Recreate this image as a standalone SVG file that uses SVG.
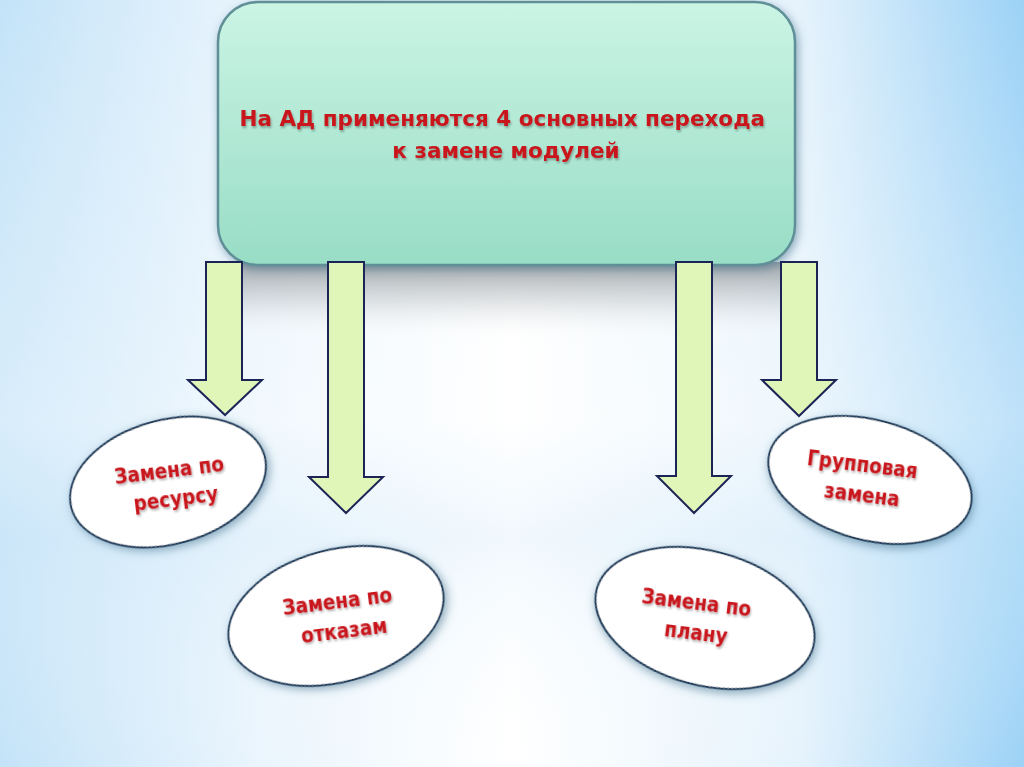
<svg xmlns="http://www.w3.org/2000/svg" width="1024" height="767" viewBox="0 0 1024 767">
<defs>
  <linearGradient id="bgH" x1="0" y1="0" x2="1" y2="0">
    <stop offset="0" stop-color="#c4e3f8"/>
    <stop offset="0.25" stop-color="#eaf5fd"/>
    <stop offset="0.5" stop-color="#ffffff"/>
    <stop offset="0.78" stop-color="#e6f3fc"/>
    <stop offset="1" stop-color="#9cd2f6"/>
  </linearGradient>
  <linearGradient id="bgV" x1="0" y1="0" x2="0" y2="1">
    <stop offset="0" stop-color="#ffffff" stop-opacity="0"/>
    <stop offset="0.55" stop-color="#ffffff" stop-opacity="0.35"/>
    <stop offset="0.7" stop-color="#d8ecfa" stop-opacity="0.35"/>
    <stop offset="1" stop-color="#ffffff" stop-opacity="0"/>
  </linearGradient>
  <linearGradient id="boxFill" x1="0" y1="0" x2="0" y2="1">
    <stop offset="0" stop-color="#cbf4e4"/>
    <stop offset="1" stop-color="#98ddc6"/>
  </linearGradient>
  <linearGradient id="refl" x1="0" y1="0" x2="0" y2="1">
    <stop offset="0" stop-color="#8e9498" stop-opacity="0.85"/>
    <stop offset="0.5" stop-color="#c4c9cc" stop-opacity="0.5"/>
    <stop offset="1" stop-color="#ffffff" stop-opacity="0"/>
  </linearGradient>
  <filter id="glow" x="-20%" y="-20%" width="140%" height="140%">
    <feGaussianBlur in="SourceAlpha" stdDeviation="5"/>
    <feOffset dx="2" dy="3" result="b"/>
    <feFlood flood-color="#3a6a86" flood-opacity="0.55"/>
    <feComposite in2="b" operator="in"/>
    <feMerge><feMergeNode/><feMergeNode in="SourceGraphic"/></feMerge>
  </filter>
  <filter id="tshadow" x="-10%" y="-20%" width="120%" height="150%">
    <feGaussianBlur in="SourceAlpha" stdDeviation="1"/>
    <feOffset dx="1" dy="2" result="b"/>
    <feFlood flood-color="#000000" flood-opacity="0.3"/>
    <feComposite in2="b" operator="in"/>
    <feMerge><feMergeNode/><feMergeNode in="SourceGraphic"/></feMerge>
  </filter>
</defs>
<style>
  .arrow { fill: #e0f6b9; stroke: #1c2456; stroke-width: 2; stroke-linejoin: miter; }
  .oval { fill: #ffffff; stroke: #223d5a; stroke-width: 2; }
  .lbl { font-family: "DejaVu Sans", Verdana, sans-serif; font-weight: bold; fill: #c8161c; text-anchor: middle; }
  .ov { font-stretch: condensed; font-size: 20.5px; }
</style>

<rect x="0" y="0" width="1024" height="767" fill="url(#bgH)"/>
<rect x="0" y="0" width="1024" height="767" fill="url(#bgV)"/>
<rect x="232" y="262" width="556" height="80" fill="url(#refl)"/>

<g id="main">
  <rect x="218" y="2" width="577" height="263" rx="40" ry="40" fill="url(#boxFill)" stroke="#5f8f97" stroke-width="2.5" filter="url(#glow)"/>
  <text class="lbl" font-size="21.5" filter="url(#tshadow)">
    <tspan x="506" y="126">На АД применяются 4 основных перехода</tspan>
    <tspan x="506" y="158">к замене модулей</tspan>
  </text>
</g>

<g id="connectors">
  <polygon class="arrow" points="206,262 242,262 242,380 262,380 225,415 188,380 206,380"/>
  <polygon class="arrow" points="328,262 364,262 364,477 383,477 346,513 309,477 328,477"/>
  <polygon class="arrow" points="676,262 712,262 712,476 731,476 694,513 657,476 676,476"/>
  <polygon class="arrow" points="781,262 817,262 817,380 836,380 799,416 762,380 781,380"/>
</g>

<g id="n-resurs">
  <ellipse class="oval" cx="168" cy="482" rx="100" ry="62" transform="rotate(-15 168 482)" filter="url(#glow)"/>
  <text class="lbl ov" transform="translate(174,484) rotate(-7)" filter="url(#tshadow)">
    <tspan x="0" y="-7">Замена по</tspan>
    <tspan x="0" y="22">ресурсу</tspan>
  </text>
</g>

<g id="n-otkaz">
  <ellipse class="oval" cx="336" cy="616" rx="110" ry="66" transform="rotate(-15 336 616)" filter="url(#glow)"/>
  <text class="lbl ov" transform="translate(342,614) rotate(-7)" filter="url(#tshadow)">
    <tspan x="0" y="-6">Замена по</tspan>
    <tspan x="0" y="24">отказам</tspan>
  </text>
</g>

<g id="n-plan">
  <ellipse class="oval" cx="705" cy="618" rx="112" ry="67" transform="rotate(15 705 618)" filter="url(#glow)"/>
  <text class="lbl ov" transform="translate(698,616) rotate(7)" filter="url(#tshadow)">
    <tspan x="0" y="-6">Замена по</tspan>
    <tspan x="0" y="24">плану</tspan>
  </text>
</g>

<g id="n-group">
  <ellipse class="oval" cx="870" cy="480" rx="104" ry="60" transform="rotate(15 870 480)" filter="url(#glow)"/>
  <text class="lbl ov" transform="translate(864,478) rotate(7)" filter="url(#tshadow)">
    <tspan x="0" y="-6">Групповая</tspan>
    <tspan x="0" y="24">замена</tspan>
  </text>
</g>
</svg>
